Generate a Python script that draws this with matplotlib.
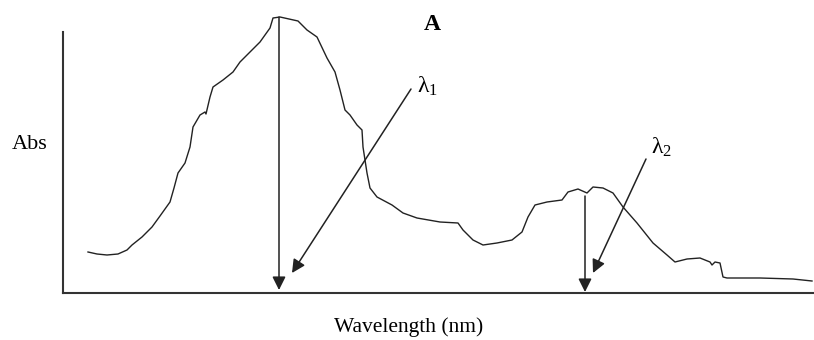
import matplotlib
matplotlib.use('Agg')
import matplotlib.pyplot as plt

plt.rcParams['font.family'] = ['Liberation Serif', 'DejaVu Serif']
plt.rcParams['mathtext.fontset'] = 'custom'
plt.rcParams['mathtext.rm'] = 'Liberation Serif'
plt.rcParams['mathtext.it'] = 'Liberation Serif'

# spectrum (x = wavelength position, y = absorbance height)
wavelength = [88, 97, 107, 118, 127, 132, 142, 152, 160, 170, 174, 178, 185, 190, 193,
              200, 205, 206, 210, 213, 223, 233, 240, 250, 260, 270, 273, 280, 298, 307,
              317, 327, 335, 340, 345, 350, 357, 362, 363, 367, 370, 377, 392, 403, 417,
              440, 458, 463, 473, 483, 497, 512, 522, 528, 535, 547, 562, 568, 578, 587,
              593, 603, 613, 623, 637, 653, 667, 675, 687, 700, 710, 712, 715, 720, 723,
              727, 760, 793, 812]
abs_px = [252, 254, 255, 254, 250, 245, 237, 227, 216, 202, 188, 173, 163, 147, 127,
          115, 112, 114, 97, 87, 80, 72, 62, 52, 42, 28, 18, 17, 21, 30,
          37, 58, 72, 90, 110, 115, 125, 130, 147, 173, 188, 197, 205, 213, 218,
          222, 223, 230, 240, 245, 243, 240, 232, 217, 205, 202, 200, 192, 189, 193,
          187, 188, 193, 207, 223, 243, 255, 262, 259, 258, 262, 265, 262, 263, 277,
          278, 278, 279, 281]
absorbance = [293 - v for v in abs_px]

# arrows: (start x, start y, end x, end y)
arrows = [(279, 276, 279, 3),
          (411, 204, 292, 20),
          (585, 97, 585, 1),
          (646, 134, 593, 20)]
peak_labels = ['λ$_1$', 'λ$_2$']
peak_label_pos = [(417, 207), (651, 146)]

fig = plt.figure(figsize=(8.14, 3.40), dpi=100)
ax = fig.add_axes([63 / 814, 47 / 340, (814 - 63) / 814, (293 - 32) / 340])
ax.set_xlim(63, 814)
ax.set_ylim(0, 261)
ax.set_xticks([])
ax.set_yticks([])
for s in ['top', 'right']:
    ax.spines[s].set_visible(False)
for s in ['left', 'bottom']:
    ax.spines[s].set_color('#333333')
    ax.spines[s].set_linewidth(1.5)

ax.plot(wavelength, absorbance, color='#222222', lw=1.0, clip_on=False)

for x0, y0, x1, y1 in arrows:
    ax.annotate('', xy=(x1, y1), xytext=(x0, y0),
                arrowprops=dict(arrowstyle='-|>', color='#222222', lw=1.1,
                                mutation_scale=20, shrinkA=0, shrinkB=0),
                annotation_clip=False)

for lab, (lx, ly) in zip(peak_labels, peak_label_pos):
    ax.text(lx, ly, lab, fontsize=17, ha='left', va='center')

ax.text(432, 268, 'A', fontsize=17, fontweight='bold', ha='center', va='center')
ax.text(30, 148, 'Abs', fontsize=16, ha='center', va='center')
ax.text(409, -34, 'Wavelength (nm)', fontsize=15.5, ha='center', va='center')

fig.savefig('out.png', dpi=100)
